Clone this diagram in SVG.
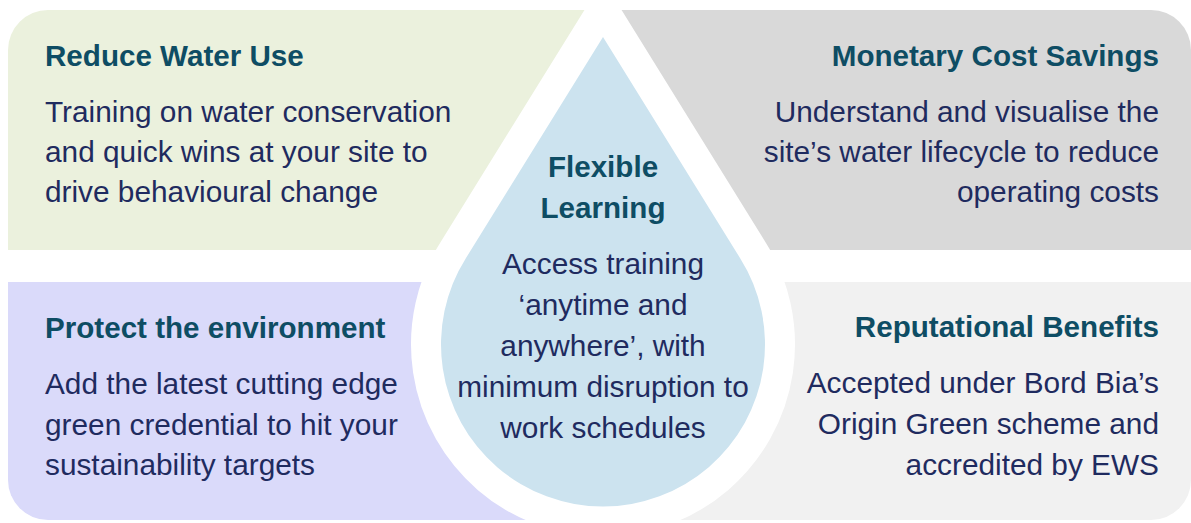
<svg xmlns="http://www.w3.org/2000/svg" width="1191" height="523" viewBox="0 0 1191 523">
<style>
.t{font-family:"Liberation Sans",Arial,sans-serif;font-weight:bold;font-size:29.6px;fill:#0e4d64}
.b{font-family:"Liberation Sans",Arial,sans-serif;font-size:29.8px;fill:#1f2b5f}
.e{text-anchor:end}
.m{text-anchor:middle}
</style>
<rect x="0" y="0" width="1191" height="523" fill="#ffffff"/>
<g id="reduce-water-use">
<path d="M48,10 H603 V250 H8 V50 A40,40 0 0 1 48,10 Z" fill="#ebf1dd"/>
<text class="t" x="45" y="66">Reduce Water Use</text>
<text class="b" x="45" y="122">Training on water conservation</text>
<text class="b" x="45" y="162">and quick wins at your site to</text>
<text class="b" x="45" y="202">drive behavioural change</text>
</g>
<g id="monetary-cost-savings">
<path d="M603,10 H1151 A40,40 0 0 1 1191,50 V250 H603 Z" fill="#d9d9d9"/>
<text class="t e" x="1159" y="66">Monetary Cost Savings</text>
<text class="b e" x="1159" y="122">Understand and visualise the</text>
<text class="b e" x="1159" y="162">site’s water lifecycle to reduce</text>
<text class="b e" x="1159" y="202">operating costs</text>
</g>
<g id="protect-environment">
<path d="M8,282 H603 V520 H48 A40,40 0 0 1 8,480 Z" fill="#dadafa"/>
<text class="t" x="45" y="338">Protect the environment</text>
<text class="b" x="45" y="394">Add the latest cutting edge</text>
<text class="b" x="45" y="435">green credential to hit your</text>
<text class="b" x="45" y="475">sustainability targets</text>
</g>
<g id="reputational-benefits">
<path d="M603,282 H1191 V480 A40,40 0 0 1 1151,520 H603 Z" fill="#f1f1f1"/>
<text class="t e" x="1159" y="337">Reputational Benefits</text>
<text class="b e" x="1159" y="393">Accepted under Bord Bia’s</text>
<text class="b e" x="1159" y="434">Origin Green scheme and</text>
<text class="b e" x="1159" y="475">accredited by EWS</text>
</g>
<g id="flexible-learning">
<path d="M603,37 L466,258 A162,162 0 1 0 740,258 Z" fill="#cce3ef" stroke="#ffffff" stroke-width="60" stroke-linejoin="miter" stroke-miterlimit="10" paint-order="stroke"/>
<text class="t m" x="603" y="177">Flexible</text>
<text class="t m" x="603" y="218">Learning</text>
<text class="b m" x="603" y="274">Access training</text>
<text class="b m" x="603" y="315">‘anytime and</text>
<text class="b m" x="603" y="356">anywhere’, with</text>
<text class="b m" x="603" y="397">minimum disruption to</text>
<text class="b m" x="603" y="438">work schedules</text>
</g>
</svg>
